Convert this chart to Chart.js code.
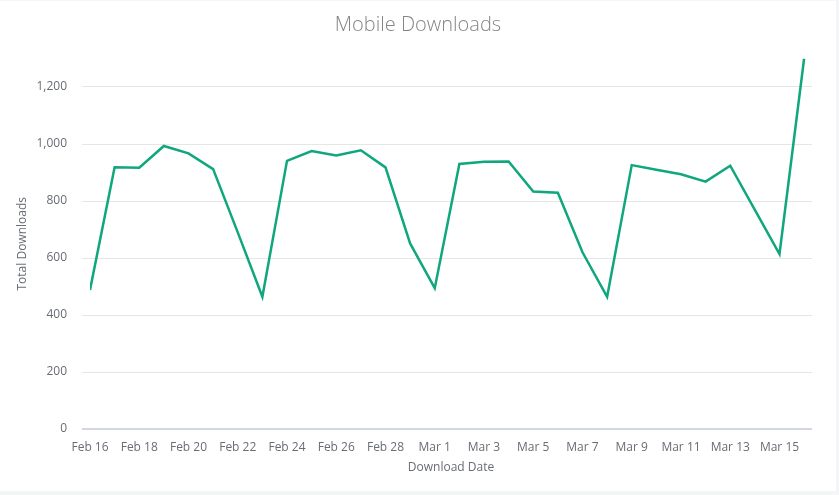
<!DOCTYPE html>
<html>
<head>
<meta charset="utf-8">
<script src="https://cdn.jsdelivr.net/npm/chart.js@4"></script>
<style>
  html, body { margin: 0; padding: 0; background: #f3f6f6; }
  #card { position: absolute; left: 0; top: 1px; width: 836px; height: 490px; background: #fff; }
</style>
</head>
<body>
<div id="card"><canvas id="lineChart" width="836" height="490"></canvas></div>
<script>
const dates = [
  "Feb 16", "Feb 17", "Feb 18", "Feb 19", "Feb 20", "Feb 21", "Feb 22", "Feb 23",
  "Feb 24", "Feb 25", "Feb 26", "Feb 27", "Feb 28", "Feb 29", "Mar 1", "Mar 2",
  "Mar 3", "Mar 4", "Mar 5", "Mar 6", "Mar 7", "Mar 8", "Mar 9", "Mar 10",
  "Mar 11", "Mar 12", "Mar 13", "Mar 14", "Mar 15", "Mar 16"
];
const downloads = [
  488, 918, 917, 993, 967, 912, 690, 464,
  941, 975, 960, 978, 918, 651, 494, 930,
  938, 939, 833, 829, 620, 464, 926, 910,
  894, 868, 924, 769, 614, 1300
];
const yTicks = [0, 200, 400, 600, 800, 1000, 1200];

document.addEventListener("DOMContentLoaded", () => {
  const canvas = document.getElementById("lineChart");
  const tickColor = "#686c75";

  new Chart(canvas, {
    type: "line",
    data: {
      datasets: [
        {
          label: "Downloads",
          data: downloads.map((v, i) => ({ x: i, y: v })),
          borderColor: "#10a67e",
          borderWidth: 2.5,
          pointRadius: 0,
          tension: 0,
          fill: false,
        },
      ],
    },
    options: {
      responsive: false,
      animation: false,
      layout: { padding: 0 },
      plugins: {
        legend: { display: false },
        tooltip: { enabled: false },
        title: {
          display: true,
          text: "Mobile Downloads",
          color: "#858585",
          font: { family: "Open Sans", size: 20, weight: 300 },
          padding: { top: 12, bottom: 21.5 },
        },
      },
      scales: {
        x: {
          type: "linear",
          min: 0,
          max: 29.32,
          grid: { display: false },
          border: { display: false },
          afterFit: (scale) => { scale.height = 62; },
          afterBuildTicks: (scale) => {
            scale.ticks = dates.map((d, i) => ({ value: i })).filter((t) => t.value % 2 === 0);
          },
          ticks: {
            includeBounds: false,
            maxRotation: 0,
            autoSkip: false,
            padding: 3,
            color: tickColor,
            font: { family: "Open Sans", size: 12 },
            callback: (v) => dates[v],
          },
          title: {
            display: true,
            text: "Download Date",
            color: tickColor,
            font: { family: "Open Sans", size: 12 },
            padding: { top: 4, bottom: 16 },
          },
        },
        y: {
          min: 0,
          max: 1300,
          afterFit: (scale) => { scale.width = 90; },
          afterBuildTicks: (scale) => {
            scale.ticks = yTicks.map((v) => ({ value: v }));
          },
          grid: {
            color: (ctx) => (ctx.tick && ctx.tick.value === 0 ? "#d3d8e0" : "#e6e6e6"),
            lineWidth: (ctx) => (ctx.tick && ctx.tick.value === 0 ? 2 : 1),
            tickLength: 8,
          },
          border: { display: false },
          ticks: {
            padding: 15,
            color: tickColor,
            font: { family: "Open Sans", size: 12 },
            callback: (v) => v.toLocaleString("en-US"),
          },
          title: {
            display: true,
            text: "Total Downloads",
            color: tickColor,
            font: { family: "Open Sans", size: 12 },
            padding: { top: 15, bottom: 0 },
          },
        },
        // empty right gutter so the title stays centred on the card
        gutter: {
          position: "right",
          grid: { display: false },
          border: { display: false },
          ticks: { display: false },
          afterFit: (scale) => { scale.width = 24; },
        },
      },
    },
  });
});
</script>
</body>
</html>
